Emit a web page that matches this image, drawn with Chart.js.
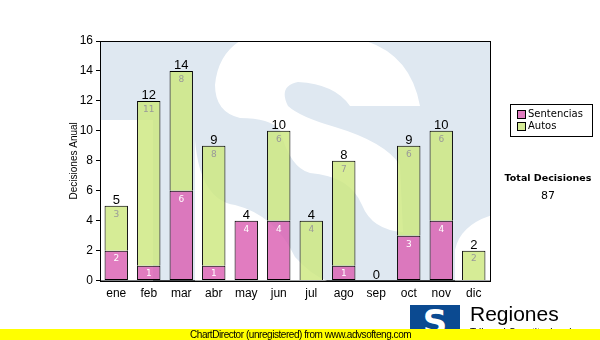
<!DOCTYPE html>
<html>
<head>
<meta charset="utf-8">
<script src="https://cdn.jsdelivr.net/npm/chart.js@4.4.1/dist/chart.umd.min.js"></script>
<style>
    body { margin: 0; background: #fff; font-family: "Liberation Sans", Arial, sans-serif; }
    #wrap { position: relative; width: 600px; height: 340px; overflow: hidden; }
    canvas { position: absolute; left: 0; top: 0; }
    .legend { position: absolute; left: 510px; top: 104px; width: 81px; height: 31px; border: 1px solid #000; font: 10px "DejaVu Sans", sans-serif; background: #fff; }
    .legend div { position: relative; padding-left: 17px; line-height: 12px; margin-top: 3px; }
    .legend span { position: absolute; left: 6px; top: 2px; width: 7px; height: 7px; border: 1px solid #000; }
    .total { position: absolute; left: 500px; width: 96px; text-align: center; font: 10px "DejaVu Sans", sans-serif; }
    .logo { position: absolute; left: 410px; top: 305px; width: 50px; height: 32px; background: #0b4a91; color: #fff; font: bold 34px "DejaVu Sans", sans-serif; text-align: center; line-height: 34px; overflow: hidden; }
    .regiones { position: absolute; left: 470px; top: 302px; font-size: 21px; }
    .sub { position: absolute; left: 470px; top: 327px; font-size: 10px; }
    .banner { position: absolute; left: 0; top: 329px; width: 600px; height: 11px; background: #ffff00; font-size: 10px; line-height: 11px; letter-spacing: -0.45px; }
    .banner span { position: absolute; left: 190px; }
</style>
</head>
<body>
<div id="wrap">
    <canvas id="chart" width="600" height="340"></canvas>
    <div class="legend">
        <div><span style="background:#e07cc0"></span>Sentencias</div>
        <div style="margin-top:0"><span style="background:#d6ec96"></span>Autos</div>
    </div>
    <div class="total" style="top:172px;font-weight:bold;font-size:9.5px">Total Decisiones</div>
    <div class="total" style="top:189px;font-size:11px">87</div>
    <div class="logo">S</div>
    <div class="regiones">Regiones</div>
    <div class="sub">Tribunal Constitucional</div>
    <div class="banner"><span>ChartDirector (unregistered) from www.advsofteng.com</span></div>
</div>
<script>
var months = ['ene', 'feb', 'mar', 'abr', 'may', 'jun', 'jul', 'ago', 'sep', 'oct', 'nov', 'dic'];
var sentencias = [2, 1, 6, 1, 4, 4, 0, 1, 0, 3, 4, 0];
var autos = [3, 11, 8, 8, 0, 6, 4, 7, 0, 6, 6, 2];
var yMax = 16;
var yStep = 2;

var font = '"Liberation Sans", Arial, sans-serif';

// empty segments are not drawn at all
function noZero(arr) {
    return arr.map(function(v) { return v === 0 ? null : v; });
}

// pale logo behind the bars: light blue field with white cut-outs
var watermark = {
    id: 'watermark',
    beforeDatasetsDraw: function(chart) {
        var ctx = chart.ctx, a = chart.chartArea;
        ctx.save();
        ctx.beginPath();
        ctx.rect(a.left, a.top, a.right - a.left, a.bottom - a.top);
        ctx.clip();
        ctx.fillStyle = '#dfe8f1';
        ctx.fillRect(a.left, a.top, a.right - a.left, a.bottom - a.top);
        ctx.fillStyle = '#ffffff';

        // upper white sweep around the blue tongue
        ctx.beginPath();
        ctx.moveTo(245, 38);
        ctx.lineTo(355, 38);
        ctx.quadraticCurveTo(410, 50, 420, 106);
        ctx.lineTo(350, 106);
        ctx.quadraticCurveTo(335, 84, 298, 82);
        ctx.quadraticCurveTo(278, 86, 288, 106);
        ctx.quadraticCurveTo(300, 117, 335, 127);
        ctx.quadraticCurveTo(385, 142, 400, 165);
        ctx.lineTo(403, 232);
        ctx.quadraticCurveTo(372, 230, 362, 205);
        ctx.quadraticCurveTo(350, 176, 310, 173);
        ctx.quadraticCurveTo(290, 168, 280, 130);
        ctx.quadraticCurveTo(270, 118, 240, 118);
        ctx.quadraticCurveTo(215, 112, 215, 85);
        ctx.quadraticCurveTo(218, 52, 245, 38);
        ctx.closePath();
        ctx.fill();

        // lower left
        ctx.fillRect(a.left, 120, 153 - a.left, a.bottom - 120);

        // lower middle
        ctx.beginPath();
        ctx.moveTo(195, 140);
        ctx.quadraticCurveTo(200, 200, 235, 205);
        ctx.quadraticCurveTo(275, 215, 295, 257);
        ctx.quadraticCurveTo(312, 276, 330, 282);
        ctx.lineTo(195, 282);
        ctx.closePath();
        ctx.fill();

        // lower right corner
        ctx.beginPath();
        ctx.moveTo(492, 215);
        ctx.quadraticCurveTo(460, 225, 455, 250);
        ctx.lineTo(455, 282);
        ctx.lineTo(492, 282);
        ctx.closePath();
        ctx.fill();
        ctx.restore();
    },
    afterDraw: function(chart) {
        var ctx = chart.ctx, a = chart.chartArea;
        ctx.save();
        ctx.strokeStyle = '#000';
        ctx.lineWidth = 1;
        ctx.strokeRect(Math.round(a.left) + 0.5, Math.round(a.top) + 0.5,
            Math.round(a.right - a.left), Math.round(a.bottom - a.top));
        ctx.restore();
    }
};

// segment values and totals
var valueLabels = {
    id: 'valueLabels',
    afterDatasetsDraw: function(chart) {
        var ctx = chart.ctx, x = chart.scales.x, y = chart.scales.y;
        ctx.save();
        ctx.textAlign = 'center';
        months.forEach(function(m, i) {
            var cx = x.getPixelForValue(i);
            ctx.textBaseline = 'top';
            ctx.font = '9px "DejaVu Sans", sans-serif';
            if (sentencias[i] > 0) {
                ctx.fillStyle = '#ffffff';
                ctx.fillText(sentencias[i], cx, y.getPixelForValue(sentencias[i]) + 4);
            }
            var total = sentencias[i] + autos[i];
            if (autos[i] > 0) {
                ctx.fillStyle = '#999999';
                ctx.fillText(autos[i], cx, y.getPixelForValue(total) + 4);
            }
            ctx.fillStyle = '#000';
            ctx.font = '13px ' + font;
            ctx.textBaseline = 'bottom';
            ctx.fillText(total, cx, y.getPixelForValue(total) + 1);
        });
        ctx.restore();
    }
};

new Chart(document.getElementById('chart'), {
    type: 'bar',
    data: {
        labels: months,
        datasets: [{
            label: 'Sentencias',
            data: noZero(sentencias),
            backgroundColor: 'rgba(217, 91, 176, 0.8)',
            borderColor: '#000',
            borderWidth: 1,
            borderSkipped: false,
            barPercentage: 0.72,
            categoryPercentage: 1
        }, {
            label: 'Autos',
            data: noZero(autos),
            backgroundColor: 'rgba(204, 231, 124, 0.8)',
            borderColor: '#000',
            borderWidth: 1,
            borderSkipped: 'bottom',
            barPercentage: 0.72,
            categoryPercentage: 1
        }]
    },
    options: {
        responsive: false,
        animation: false,
        layout: { padding: { top: 41, right: 110, bottom: 37, left: 66 } },
        plugins: {
            legend: { display: false },
            tooltip: { enabled: false }
        },
        scales: {
            x: {
                stacked: true,
                grid: { display: false, drawTicks: true, tickLength: 4 },
                border: { color: '#000' },
                ticks: { color: '#000', font: { family: font, size: 12 }, padding: 2 }
            },
            y: {
                stacked: true,
                min: 0,
                max: yMax,
                ticks: { stepSize: yStep, color: '#000', font: { family: font, size: 12 }, padding: 3 },
                grid: { color: '#c0c0c0', tickColor: '#000', tickLength: 4 },
                border: { color: '#000' },
                title: { display: true, text: 'Decisiones Anual', color: '#000', font: { family: font, size: 10 }, padding: 2 },
                afterFit: function(s) { s.width = 34; }
            }
        }
    },
    plugins: [watermark, valueLabels]
});
</script>
</body>
</html>
